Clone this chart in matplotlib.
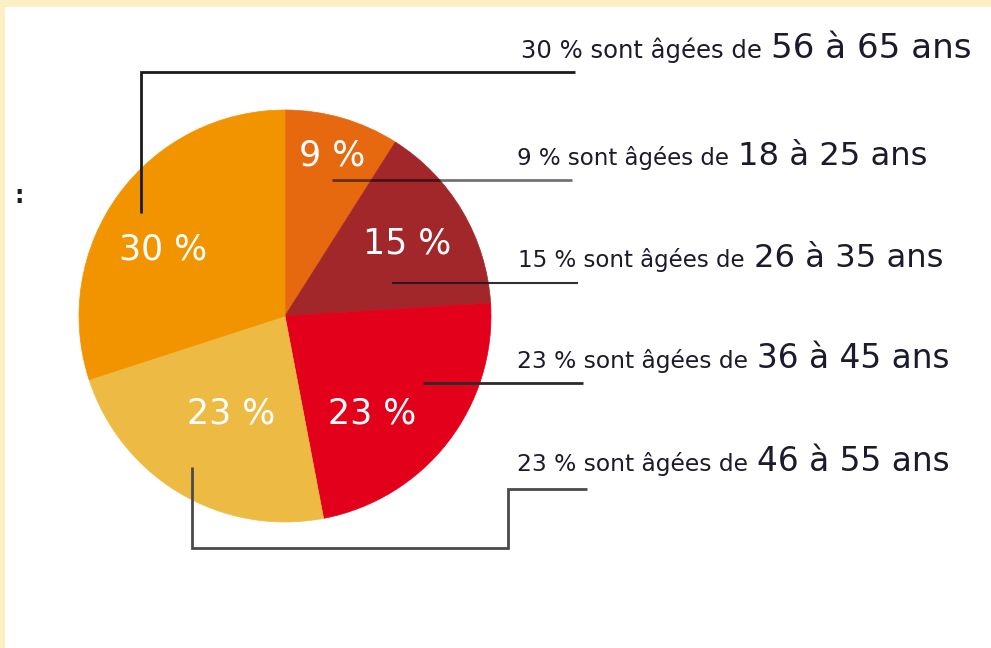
import matplotlib
matplotlib.use('Agg')
import matplotlib.pyplot as plt
from matplotlib.patches import Rectangle

plt.rcParams['font.family'] = ['DejaVu Sans']

# slices, clockwise from the top
shares = [9, 15, 23, 23, 30]
ages = ['18 à 25 ans', '26 à 35 ans', '36 à 45 ans', '46 à 55 ans', '56 à 65 ans']
colors = ['#E6690F', '#A2272A', '#E2001A', '#EDBB43', '#F29400']

# order of the text rows on the right (index into shares)
row_order = [4, 0, 1, 2, 3]

# layout (pixel coords of the 991x648 picture)
pie_center = (285, 316)
pie_radius = 206
label_xy = [(332, 155), (407, 243), (372, 413), (231, 413), (163, 250)]
row_x = [521, 517, 518, 517, 517]
row_base = [58, 165, 267, 368, 471]
small_size = [17.5, 16.5, 16.5, 16.8, 16.8]
big_size = [24.6, 23.2, 23.2, 23.6, 23.6]

leaders = [
    ([141, 141, 575], [213, 72, 72], '#1a1a1a', 2.0, 1.0),
    ([332, 572], [180, 180], '#000000', 2.0, 0.55),
    ([392, 578], [283, 283], '#1a1a1a', 1.5, 0.9),
    ([423, 583], [383, 383], '#2a2a2a', 2.0, 1.0),
    ([192, 192, 508, 508, 587], [467, 548, 548, 489, 489], '#4a4a4a', 2.0, 1.0),
]

txt_color = '#1b1b2b'

fig = plt.figure(figsize=(9.91, 6.48), dpi=100, facecolor='#FDEFC4')
fig.add_artist(Rectangle((5 / 991, 0), 1, 641 / 648, transform=fig.transFigure,
                         facecolor='white', edgecolor='none', zorder=-1))
ax = fig.add_axes([0, 0, 1, 1])

# y axis points down, so start at 270 and go counterclockwise in data
wedges, _ = ax.pie(shares, colors=colors, startangle=270, counterclock=True,
                   center=pie_center, radius=pie_radius,
                   wedgeprops=dict(linewidth=0.5))
for w, c in zip(wedges, colors):
    w.set_edgecolor(c)

ax.set_aspect('auto')
ax.set_xlim(0, 991)
ax.set_ylim(648, 0)
ax.axis('off')

for (x, y), s in zip(label_xy, shares):
    ax.text(x, y, f'{s} %', color='white', fontsize=25, ha='center', va='center')

for xs, ys, c, lw, a in leaders:
    ax.plot(xs, ys, color=c, lw=lw, alpha=a, solid_capstyle='butt',
            solid_joinstyle='miter')

ax.text(19, 196, ':', fontsize=17, color=txt_color, ha='center', va='center',
        fontweight='bold')

fig.canvas.draw()
renderer = fig.canvas.get_renderer()
inv = ax.transData.inverted()
for i, k in enumerate(row_order):
    t = ax.text(row_x[i], row_base[i], f'{shares[k]} % sont âgées de',
                fontsize=small_size[i], color=txt_color, va='baseline', ha='left')
    bb = t.get_window_extent(renderer)
    x_end = inv.transform((bb.x1, bb.y0))[0]
    ax.text(x_end + 9, row_base[i], ages[k], fontsize=big_size[i], color=txt_color,
            va='baseline', ha='left')

fig.savefig('out.png', dpi=100)
